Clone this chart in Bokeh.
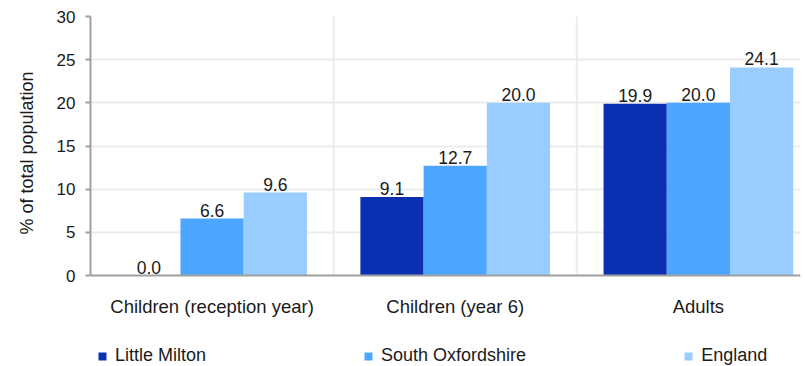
import numpy as np
from bokeh.plotting import figure
from bokeh.models import ColumnDataSource, FixedTicker, Range1d, Legend, LegendItem, Title
from bokeh.transform import dodge
from bokeh.core.properties import value
from bokeh.embed import file_html
from bokeh.resources import INLINE

categories = ["Children (reception year)", "Children (year 6)", "Adults"]
series_names = ["Little Milton", "South Oxfordshire", "England"]
little_milton = [0.0, 9.1, 19.9]
south_oxfordshire = [6.6, 12.7, 20.0]
england = [9.6, 20.0, 24.1]
y_ticks = [0, 5, 10, 15, 20, 25, 30]
y_label = "% of total population"

colors = ["#0a2fb0", "#4ca6ff", "#99ccff"]
FONT = "Liberation Sans"
TXT = "#1a1a1a"

xpos = list(np.arange(len(categories)) + 0.5)
seps = list(np.arange(1, len(categories)).astype(float))
src = ColumnDataSource(dict(
    x=xpos,
    lm=little_milton, so=south_oxfordshire, en=england,
    lm_t=[f"{v:.1f}" for v in little_milton],
    so_t=[f"{v:.1f}" for v in south_oxfordshire],
    en_t=[f"{v:.1f}" for v in england],
))

# frame spans 16..366 px; value 0 sits 91 px above the frame bottom (room for labels + legend)
ymax = y_ticks[-1]
px_per_unit = 259 / ymax
ymin = -91 / px_per_unit

p = figure(width=805, height=366, output_backend="svg", toolbar_location=None,
           x_range=Range1d(0, 2.92), y_range=Range1d(ymin, ymax),
           min_border_left=89, min_border_right=5, min_border_top=16, min_border_bottom=0)
p.outline_line_color = None
p.background_fill_color = "white"

# vertical group separators (grid lines limited to the value range)
p.segment(x0=seps, y0=[y_ticks[0]] * len(seps), x1=seps, y1=[ymax] * len(seps),
          line_color="#ececec", line_width=2)

bw = 0.26
offsets = [-bw, 0.0, bw]
renderers = []
for col, off, c in zip(["lm", "so", "en"], offsets, colors):
    r = p.vbar(x=dodge("x", off, range=p.x_range), top=col, width=bw, source=src,
               fill_color=c, line_color=None)
    renderers.append(r)
    p.text(x=dodge("x", off, range=p.x_range), y=col, text=col + "_t", source=src,
           text_align="center", text_baseline="alphabetic", y_offset=-8.5,
           text_font=value(FONT), text_font_size="17.5px", text_color=TXT)

# y axis
p.yaxis.ticker = FixedTicker(ticks=y_ticks)
p.yaxis.bounds = (y_ticks[0], ymax)
p.yaxis.major_label_text_font = FONT
p.yaxis.major_label_text_font_size = "17px"
p.yaxis.major_label_text_color = TXT
p.yaxis.major_label_standoff = 10
p.yaxis.major_tick_out = 5
p.yaxis.major_tick_in = 0
p.yaxis.minor_tick_line_color = None
p.yaxis.axis_line_color = "#a0a0a0"
p.yaxis.axis_line_width = 2
p.yaxis.major_tick_line_color = "#a0a0a0"
p.yaxis.major_tick_line_width = 2

# y axis title, placed along the value range rather than the whole frame
p.add_layout(Title(text=y_label, align="left", vertical_align="middle", offset=132,
                   standoff=31, text_font=FONT, text_font_size="18px",
                   text_font_style="normal", text_color=TXT), "left")

# x axis, pinned at value 0
p.xaxis.fixed_location = 0
p.xaxis.ticker = FixedTicker(ticks=xpos)
p.xaxis.major_label_overrides = {float(x): c for x, c in zip(xpos, categories)}
p.xaxis.major_label_text_font = FONT
p.xaxis.major_label_text_font_size = "18.5px"
p.xaxis.major_label_text_color = TXT
p.xaxis.major_label_standoff = 20
p.xaxis.major_tick_out = 0
p.xaxis.major_tick_in = 0
p.xaxis.minor_tick_line_color = None
p.xaxis.major_tick_line_color = None
p.xaxis.axis_line_color = "#a0a0a0"
p.xaxis.axis_line_width = 2

p.ygrid.ticker = FixedTicker(ticks=y_ticks[1:])
p.ygrid.grid_line_color = "#ececec"
p.ygrid.grid_line_width = 2
p.xgrid.visible = False

legend = Legend(items=[LegendItem(label=n, renderers=[r]) for n, r in zip(series_names, renderers)],
                orientation="horizontal", location=(7, 0),
                glyph_width=10, glyph_height=10, label_standoff=8, spacing=157,
                padding=0, margin=0, border_line_color=None, background_fill_alpha=0,
                label_text_font=FONT, label_text_font_size="18px", label_text_color=TXT)
p.add_layout(legend, "center")

open("out.html", "w").write(file_html(p, INLINE))
